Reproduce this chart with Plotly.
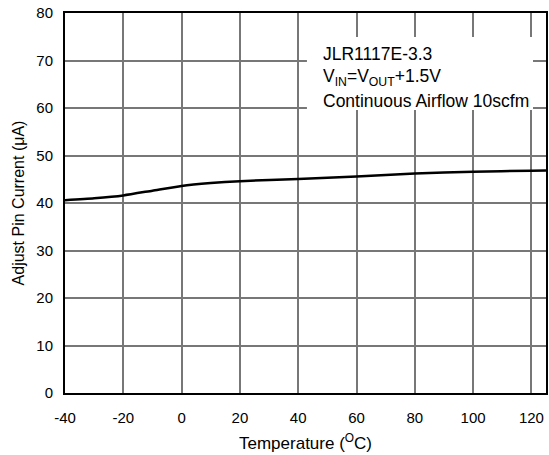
import plotly.graph_objects as go

temps = [-40, -30, -20, -10, 0, 10, 20, 40, 60, 80, 100, 120, 125]
current = [40.6, 41.0, 41.6, 42.6, 43.6, 44.2, 44.6, 45.05, 45.6, 46.2, 46.6, 46.8, 46.85]

x_ticks = [-40, -20, 0, 20, 40, 60, 80, 100, 120]
x_labels = ["-40", "-20", "0", "20", "40", "60", "80", "100", "120"]
y_ticks = [0, 10, 20, 30, 40, 50, 60, 70, 80]

FONT = "Liberation Sans, Arial, sans-serif"

fig = go.Figure()
fig.add_trace(go.Scatter(x=temps, y=current, mode="lines",
                         line=dict(color="black", width=2.5, shape="spline", smoothing=0.6),
                         showlegend=False, hoverinfo="skip"))

fig.update_layout(
    width=549, height=455,
    margin=dict(l=65, r=1, t=13, b=62),
    paper_bgcolor="white", plot_bgcolor="white",
    font=dict(family=FONT, color="black"),
    xaxis=dict(range=[-40, 125], tickvals=x_ticks, ticktext=x_labels, ticks="", ticklabelstandoff=10,
               showgrid=True, gridcolor="#777777", gridwidth=1.5,
               showline=True, linecolor="black", linewidth=2, mirror=True,
               zeroline=False, tickfont=dict(size=15),
               title=dict(text="Temperature (<sup>O</sup>C)", font=dict(size=17), standoff=12)),
    yaxis=dict(range=[0, 80], tickvals=y_ticks, ticks="", ticklabelstandoff=7,
               showgrid=True, gridcolor="#777777", gridwidth=1.5,
               showline=True, linecolor="black", linewidth=2, mirror=True,
               zeroline=False, tickfont=dict(size=15),
               title=dict(text="Adjust Pin Current (\u03bcA)", font=dict(size=16), standoff=8)),
)

fig.add_shape(type="rect", xref="paper", yref="paper", x0=0.503, x1=0.973, y0=0.745, y1=0.937,
              fillcolor="white", line=dict(width=0), layer="above")

lines = ["JLR1117E-3.3", "V<sub>IN</sub>=V<sub>OUT</sub>+1.5V", "Continuous Airflow 10scfm"]
ys = [0.892, 0.830, 0.768]
for t, yy in zip(lines, ys):
    fig.add_annotation(text=t, xref="paper", yref="paper", x=0.532, y=yy,
                       xanchor="left", yanchor="middle", showarrow=False,
                       font=dict(size=17.5, family=FONT, color="black"))

fig.write_html("out.html")
